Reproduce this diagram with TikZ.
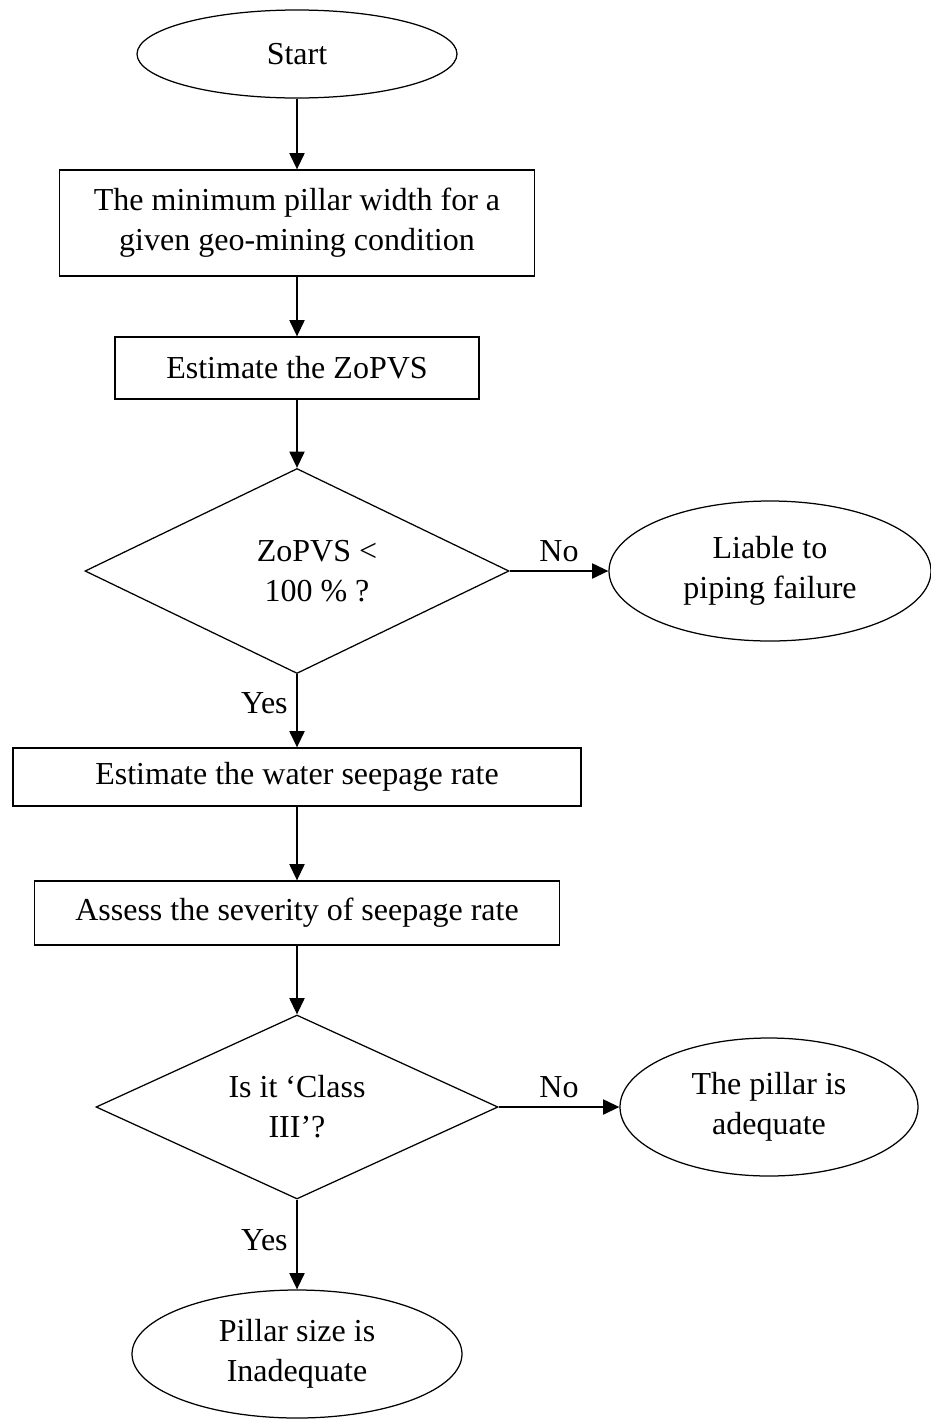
\documentclass[tikz,border=0pt]{standalone}
\usepackage{fontspec}
\setmainfont{Liberation Serif}
\usetikzlibrary{shapes.geometric,arrows.meta}

\newlength{\du}
\setlength{\du}{0.4pt}

\tikzset{
  every node/.style={font=\fontsize{12.8}{16}\selectfont},
  flowbox/.style={draw,line width=0.5pt,rectangle,inner sep=0pt,align=center},
  flowend/.style={draw,line width=0.5pt,ellipse,inner sep=0pt,align=center},
  flowtest/.style={draw,line width=0.5pt,diamond,aspect=2,inner sep=0pt,align=center},
  flowarrow/.style={line width=0.8pt,-{Triangle[length=6.5pt,width=6pt]}}
}

\begin{document}
\begin{tikzpicture}[yscale=-1]
\useasboundingbox (0\du,0\du) rectangle (931\du,1420\du);
% main column
\node[flowend,minimum width=320\du,minimum height=88\du] (start) at (297\du,54\du) {Start};
\node[flowbox,minimum width=475\du,minimum height=106\du] (minwidth) at (297\du,223\du) {The minimum pillar width for a\\given geo-mining condition};
\node[flowbox,minimum width=364\du,minimum height=62\du] (zopvs) at (297\du,368\du) {Estimate the ZoPVS};
\node[flowtest,minimum width=424\du,minimum height=205\du] (testzopvs) at (297\du,571\du) {\hspace*{40\du}ZoPVS <\\\hspace*{40\du}100 \% ?};
\node[flowbox,minimum width=568\du,minimum height=58\du] (seepage) at (297\du,777\du) {Estimate the water seepage rate};
\node[flowbox,minimum width=525\du,minimum height=64\du] (severity) at (297\du,913\du) {Assess the severity of seepage rate};
\node[flowtest,minimum width=402\du,minimum height=184\du] (testclass) at (297\du,1107\du) {Is it `Class\\III'?};
\node[flowend,minimum width=330\du,minimum height=128\du] (inadequate) at (297\du,1354\du) {Pillar size is\\Inadequate};
% side branches
\node[flowend,minimum width=322\du,minimum height=140\du] (piping) at (770\du,571\du) {Liable to\\piping failure};
\node[flowend,minimum width=298\du,minimum height=138\du] (adequate) at (769\du,1107\du) {The pillar is\\adequate};
% connectors
\draw[flowarrow] (start) -- (minwidth);
\draw[flowarrow] (minwidth) -- (zopvs);
\draw[flowarrow] (zopvs) -- (testzopvs);
\draw[flowarrow] (testzopvs.east) -- node[above] {No} (piping.west);
\draw[flowarrow] (testzopvs.south) -- node[left,pos=0.4] {Yes} (seepage.north);
\draw[flowarrow] (seepage) -- (severity);
\draw[flowarrow] (severity) -- (testclass);
\draw[flowarrow] (testclass.east) -- node[above] {No} (adequate.west);
\draw[flowarrow] (testclass.south) -- node[left,pos=0.45] {Yes} (inadequate.north);
\end{tikzpicture}
\end{document}
